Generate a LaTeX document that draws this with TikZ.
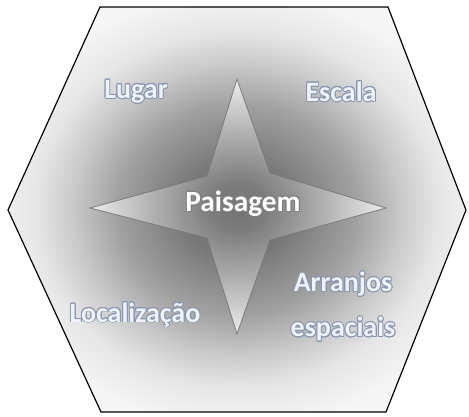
\documentclass[tikz,border=0pt]{standalone}
\usepackage{fontspec}
\setmainfont{Carlito}
\usepackage{contour}
\contourlength{0.7pt}
\definecolor{topicfill}{HTML}{EEF2F9}
\definecolor{topicline}{HTML}{8A96B0}
\definecolor{staredge}{HTML}{7A7A7A}
\pgfdeclareradialshading{hexglow}{\pgfpoint{0bp}{0bp}}{%
  rgb(0bp)=(.42,.42,.42);rgb(6bp)=(.47,.47,.47);rgb(13bp)=(.63,.63,.63);%
  rgb(18bp)=(.79,.79,.79);rgb(22bp)=(.9,.9,.9);rgb(27bp)=(.96,.96,.96);%
  rgb(50bp)=(.96,.96,.96)}
\pgfdeclareradialshading{starglow}{\pgfpoint{0bp}{0bp}}{%
  rgb(0bp)=(.45,.45,.45);rgb(5bp)=(.5,.5,.5);rgb(14bp)=(.7,.7,.7);%
  rgb(24bp)=(.93,.93,.93);rgb(30bp)=(1,1,1);rgb(50bp)=(1,1,1)}
\newcommand\topictext[1]{\contour{topicline}{#1}}

\begin{document}
\begin{tikzpicture}[x=.75pt,y=-.75pt,
      topic/.style={font=\fontsize{21}{34}\selectfont\bfseries,text=topicfill,
        inner sep=1pt,align=center},
      core/.style={font=\fontsize{22}{26}\selectfont\bfseries,text=white,inner sep=1pt}]
    \useasboundingbox (0,0) rectangle (469,417);

    % hexagon
    \draw[line width=.9pt,shading=hexglow]
      (100,7) -- (388,7) -- (466,210) -- (386,412) -- (101,412) -- (8,210) -- cycle;

    % star
    \draw[line width=.6pt,draw=staredge,shading=starglow,fill opacity=.9]
      (237,79) -- (270,173) -- (386,208) -- (270,240) -- (237,334)
      -- (207,238) -- (90,208) -- (207,176) -- cycle;

    % labels
    \node[core] (paisagem) at (243,204) {\contour{gray}{Paisagem}};
    \node[topic] (lugar) at (136,92) {\topictext{Lugar}};
    \node[topic] (escala) at (341,92) {\topictext{Escala}};
    \node[topic] (localizacao) at (135,315) {\topictext{Localização}};
    \node[topic] (arranjos) at (343,307) {\topictext{Arranjos}\\\topictext{espaciais}};
  \end{tikzpicture}
\end{document}
